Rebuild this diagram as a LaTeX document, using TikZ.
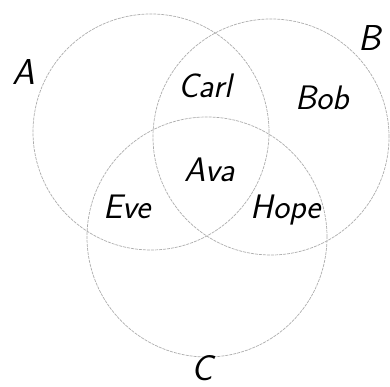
\documentclass[tikz,border=0pt]{standalone}
\usepackage{tikz}
\usetikzlibrary{positioning}

\begin{document}
\begin{tikzpicture}[
      x=1pt, y=-1pt,
      ring/.style={draw=gray!65, line width=0.7pt, dash pattern=on 3pt off 1pt},
      person/.style={font=\fontsize{34}{38}\selectfont\sffamily\itshape, inner sep=0pt},
      setlbl/.style={font=\fontsize{36}{40}\selectfont\sffamily\itshape, inner sep=0pt}
  ]
    \useasboundingbox (0,0) rectangle (390,387);
    \draw[ring] (151,132) circle[radius=118pt];
    \draw[ring] (271,137) circle[radius=118pt];
    \draw[ring] (207,237) circle[radius=120pt];
    \node[setlbl] (setA) at (24,72) {A};
    \node[setlbl] (setB) at (370,38) {B};
    \node[setlbl] (setC) at (202,368) {C};
    \node[person] (carl) at (205,86) {Carl};
    \node[person] (bob) at (322,98) {Bob};
    \node[person] (ava) at (210,170) {Ava};
    \node[person] (eve) at (127,207) {Eve};
    \node[person] (hope) at (286,210) {Hope};
  \end{tikzpicture}
\end{document}
